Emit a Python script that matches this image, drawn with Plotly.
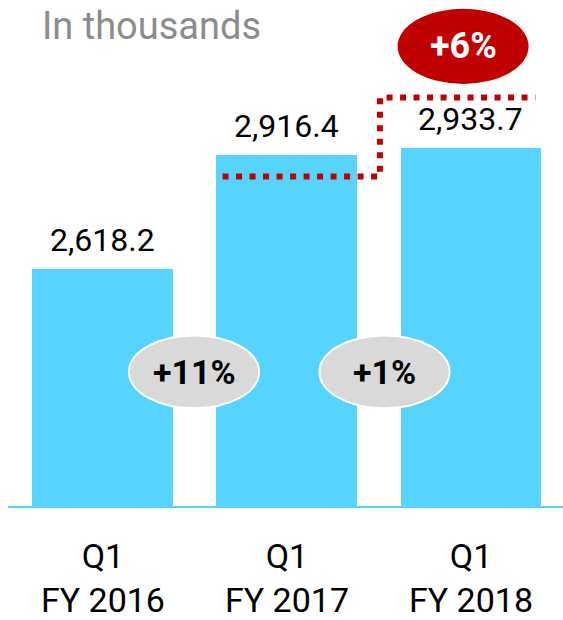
import plotly.graph_objects as go

# Quarterly volume, in thousands
categories = ["Q1<br>FY 2016", "Q1<br>FY 2017", "Q1<br>FY 2018"]
values = [2618.2, 2916.4, 2933.7]
value_labels = ["2,618.2", "2,916.4", "2,933.7"]
step_changes = ["+11%", "+1%"]
overall_change = "+6%"

BAR_BLUE = "#56d4fe"
RED = "#c00000"
GREY_PILL = "#d9d9d9"
FONT = "Roboto"

xs = list(range(len(values)))
Y_MIN, Y_MAX = 2000, 3321

fig = go.Figure()

fig.add_trace(go.Bar(
    x=xs, y=values, width=0.766,
    marker=dict(color=BAR_BLUE, line=dict(width=0)),
    hoverinfo="skip", showlegend=False,
))

# dotted step connecting the FY2017 level to the FY2018 level
low_y = values[1] - 56
high_y = values[2] + 133
fig.add_trace(go.Scatter(
    x=[0.65, 1.505, 1.505, 2.35],
    y=[low_y, low_y, high_y, high_y],
    mode="lines",
    line=dict(color=RED, width=6, dash="6px,7.5px"),
    hoverinfo="skip", showlegend=False,
))

shapes = []
annotations = []

# value labels above bars
for x, v, lab in zip(xs, values, value_labels):
    annotations.append(dict(
        x=x, y=v, xref="x", yref="y", text=lab, showarrow=False,
        yanchor="bottom", yshift=8,
        font=dict(family=FONT, size=32, color="#000000"),
    ))

# growth pills sitting in the gaps between neighbouring bars
PILL_Y = 2350
PILL_W, PILL_H = 0.707, 190
pill_offsets = [0.495, 0.53]
for i, txt in enumerate(step_changes):
    cx = xs[i] + pill_offsets[i]
    shapes.append(dict(
        type="circle", xref="x", yref="y",
        x0=cx - PILL_W / 2, x1=cx + PILL_W / 2,
        y0=PILL_Y - PILL_H / 2, y1=PILL_Y + PILL_H / 2,
        fillcolor=GREY_PILL, line=dict(color="#ffffff", width=2), layer="above",
    ))
    annotations.append(dict(
        x=cx, y=PILL_Y, xref="x", yref="y", text="<b>%s</b>" % txt,
        showarrow=False, yanchor="middle",
        font=dict(family=FONT, size=34, color="#000000"),
    ))

# overall change badge
badge_x, badge_y = 1.957, 3200
shapes.append(dict(
    type="circle", xref="x", yref="y",
    x0=badge_x - 0.712 / 2, x1=badge_x + 0.712 / 2,
    y0=badge_y - 98, y1=badge_y + 98,
    fillcolor=RED, line=dict(width=0), layer="above",
))
annotations.append(dict(
    x=badge_x, y=badge_y, xref="x", yref="y", text="<b>%s</b>" % overall_change,
    showarrow=False, yanchor="middle",
    font=dict(family=FONT, size=36, color="#ffffff"),
))

annotations.append(dict(
    x=40 / 563, y=1.0, xref="paper", yref="paper", text="In thousands",
    showarrow=False, xanchor="left", yanchor="top", yshift=-2,
    font=dict(family=FONT, size=38, color="#8c8c8c"),
))

fig.update_layout(
    width=563, height=620,
    margin=dict(l=0, r=0, t=0, b=114),
    paper_bgcolor="#ffffff", plot_bgcolor="#ffffff",
    shapes=shapes, annotations=annotations,
    bargap=0,
    xaxis=dict(
        domain=[8 / 563, 1], range=[-0.516, 2.5],
        tickmode="array", tickvals=xs, ticktext=categories,
        tickfont=dict(family=FONT, size=34, color="#000000"),
        showline=True, linecolor=BAR_BLUE, linewidth=2,
        showgrid=False, zeroline=False, ticks="", ticklabelstandoff=19,
        automargin=False, fixedrange=True,
    ),
    yaxis=dict(
        range=[Y_MIN, Y_MAX], visible=False, showgrid=False, zeroline=False,
        automargin=False, fixedrange=True,
    ),
)

fig.write_html("out.html")
